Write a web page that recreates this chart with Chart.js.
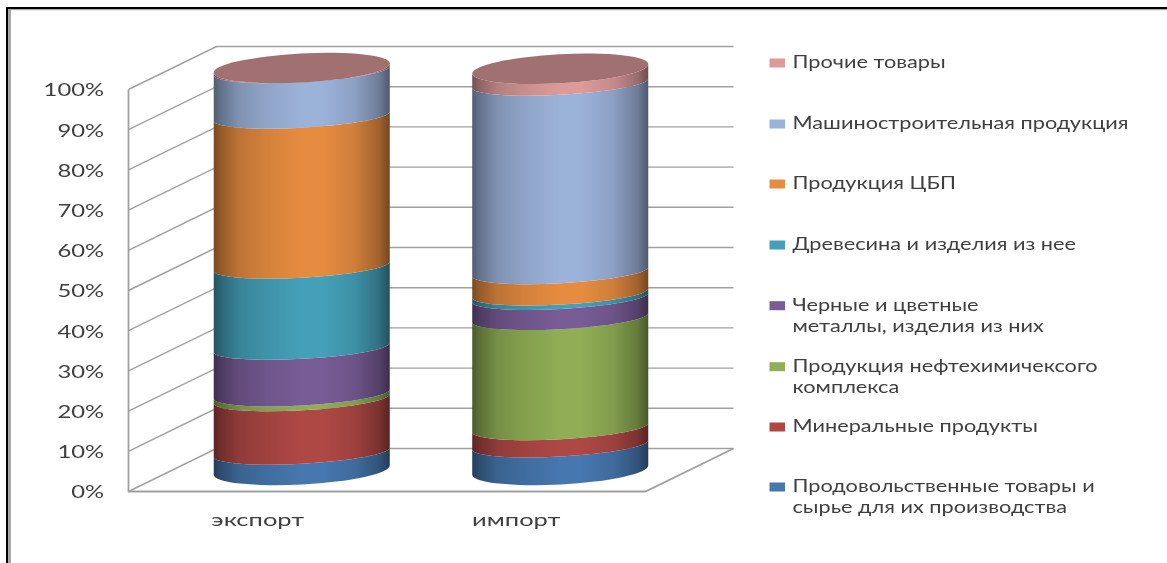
<!DOCTYPE html>
<html><head><meta charset="utf-8">
<style>html,body{margin:0;padding:0;background:#fff;overflow:hidden}#wrap{position:relative;width:1167px;height:563px}</style>
<script src="https://cdn.jsdelivr.net/npm/chart.js@4/dist/chart.umd.min.js"></script>
</head><body><div id="wrap"><canvas id="c" width="1167" height="563"></canvas></div>
<script>
const categories = ['экспорт', 'импорт'];
const seriesNames = [
  'Продовольственные товары и сырье для их производства',
  'Минеральные продукты',
  'Продукция нефтехимичексого комплекса',
  'Черные и цветные металлы, изделия из них',
  'Древесина и изделия из нее',
  'Продукция ЦБП',
  'Машиностроительная продукция',
  'Прочие товары'
];
const legendLines = [
  ['Продовольственные товары и', 'сырье для их производства'],
  ['Минеральные продукты'],
  ['Продукция нефтехимичексого', 'комплекса'],
  ['Черные и цветные', 'металлы, изделия из них'],
  ['Древесина и изделия из нее'],
  ['Продукция ЦБП'],
  ['Машиностроительная продукция'],
  ['Прочие товары']
];
const legendRowY = [487, 427, 366.7, 305.7, 245, 184, 124, 63];
const food = [4.4, 6.2];
const mineral = [13.3, 4.3];
const petro = [1.2, 27.4];
const metals = [11.6, 5.0];
const wood = [20.2, 1.1];
const paper = [37.3, 5.3];
const machinery = [11.3, 46.9];
const other = [0.7, 3.6];
const seriesValues = [food, mineral, petro, metals, wood, paper, machinery, other];
const colors = ['#4677AE', '#AE4845', '#8FAE55', '#785C96', '#44A0B8', '#E68C40', '#9BB2D9', '#DC9A9A'];

const DX = 88, DY = -43, TILT = 4.75, B_INNER = 11.5, B_END = 14.5;
const TEXT = '#3f3f3f', GRID = '#a0a0a0';
const FONT = 'Lato, Carlito, "Open Sans", sans-serif';

function shade(hex, k) {
  const n = parseInt(hex.slice(1), 16);
  const c = [(n >> 16) & 255, (n >> 8) & 255, n & 255].map(v => Math.round(v * k));
  return `rgb(${c[0]},${c[1]},${c[2]})`;
}
function stretchedText(ctx, text, x, y, sx, align) {
  ctx.save();
  ctx.translate(x, y);
  ctx.scale(sx, 1);
  ctx.textAlign = align;
  ctx.textBaseline = 'middle';
  ctx.fillText(text, 0, 0);
  ctx.restore();
}
const cylinder = {
  id: 'cylinder',
  beforeDraw(chart) {
    const {ctx, scales: {x, y}, chartArea: a} = chart;
    ctx.save();
    ctx.fillStyle = '#fff';
    ctx.fillRect(0, 0, chart.width, chart.height);
    // picture frame
    ctx.fillStyle = '#a8a8a8';
    ctx.fillRect(8, 9, 3, 554);
    ctx.fillRect(8, 9, 1159, 1.2);
    ctx.fillStyle = '#000';
    ctx.fillRect(6, 7, 2, 556);
    ctx.fillRect(6, 7, 1161, 2);
    // walls
    ctx.strokeStyle = GRID; ctx.lineWidth = 1.4;
    y.ticks.forEach(t => {
      const py = y.getPixelForValue(t.value);
      ctx.beginPath();
      ctx.moveTo(a.left, py);
      ctx.lineTo(a.left + DX, py + DY);
      ctx.lineTo(a.right + DX, py + DY);
      ctx.stroke();
    });
    ctx.lineWidth = 1.8;
    ctx.beginPath();
    ctx.moveTo(a.left, a.top); ctx.lineTo(a.left, a.bottom); ctx.lineTo(a.right, a.bottom);
    ctx.lineTo(a.right + DX, a.bottom + DY);
    ctx.stroke();
    ctx.restore();
  },
  beforeDatasetsDraw(chart) {
    const ctx = chart.ctx;
    const n = chart.data.datasets.length;
    chart.data.labels.forEach((_, j) => {
      for (let i = 0; i < n; i++) {
        const el = chart.getDatasetMeta(i).data[j];
        const cx = el.x + DX / 2, hw = el.width / 2;
        const yLow = el.base + DY / 2, yTop = el.y + DY / 2;
        const a = Math.hypot(hw, TILT), rot = -Math.atan2(TILT, hw);
        const bLow = i === 0 ? B_END : B_INNER, bTop = i === n - 1 ? B_END : B_INNER;
        const g = ctx.createLinearGradient(cx - hw, 0, cx + hw, 0);
        const col = colors[i];
        [[0, .52], [.04, .64], [.14, .82], [.3, .92], [.5, 1], [.62, 1], [.8, .9], [.94, .7], [1, .5]]
          .forEach(([p, k]) => g.addColorStop(p, shade(col, k)));
        ctx.beginPath();
        ctx.ellipse(cx, yLow, a, bLow, rot, Math.PI, 0, true);
        ctx.ellipse(cx, yTop, a, bTop, rot, 0, Math.PI, false);
        ctx.closePath();
        ctx.fillStyle = g;
        ctx.fill();
        if (i === n - 1) {
          ctx.beginPath();
          ctx.ellipse(cx, yTop, a, bTop, rot, 0, Math.PI * 2);
          ctx.fillStyle = shade(col, .73);
          ctx.fill();
        }
      }
    });
    return false;
  },
  afterDraw(chart) {
    const {ctx, scales: {x, y}} = chart;
    ctx.save();
    ctx.fillStyle = TEXT;
    // value axis labels
    ctx.font = '16.5px ' + FONT;
    y.ticks.forEach(t => {
      stretchedText(ctx, t.label, 104, y.getPixelForValue(t.value) + 1.5, 1.44, 'right');
    });
    // category labels
    ctx.font = '17px ' + FONT;
    categories.forEach((c, k) => {
      stretchedText(ctx, c, x.getPixelForValue(k), 521, 1.5, 'center');
    });
    // legend
    ctx.font = '17px ' + FONT;
    const sx = 336 / ctx.measureText('Машиностроительная продукция').width;
    legendLines.forEach((lines, i) => {
      ctx.fillStyle = colors[i];
      ctx.fillRect(769.5, legendRowY[i] - 4.5, 15.5, 9);
      ctx.fillStyle = TEXT;
      lines.forEach((l, k) => stretchedText(ctx, l, 792.5, legendRowY[i] + k * 21, sx, 'left'));
    });
    ctx.restore();
  }
};
new Chart(document.getElementById('c'), {
  type: 'bar',
  data: {
    labels: categories,
    datasets: seriesValues.map((v, i) => ({
      label: seriesNames[i], data: v, backgroundColor: colors[i], stack: 's',
      categoryPercentage: 1, barPercentage: 0.681
    }))
  },
  options: {
    responsive: false, animation: false,
    layout: {padding: {left: 128.5, right: 521.5, top: 89.5, bottom: 71.5}},
    plugins: {legend: {display: false}, tooltip: {enabled: false}},
    scales: {
      x: {stacked: true, grid: {display: false}, border: {display: false}, ticks: {display: false},
          afterFit(s) { s.height = 0; }},
      y: {stacked: true, min: 0, max: 100, grid: {display: false}, border: {display: false},
          ticks: {display: false, stepSize: 10, callback: v => v + '%'},
          afterFit(s) { s.width = 0; }}
    }
  },
  plugins: [cylinder]
});
</script></body></html>
